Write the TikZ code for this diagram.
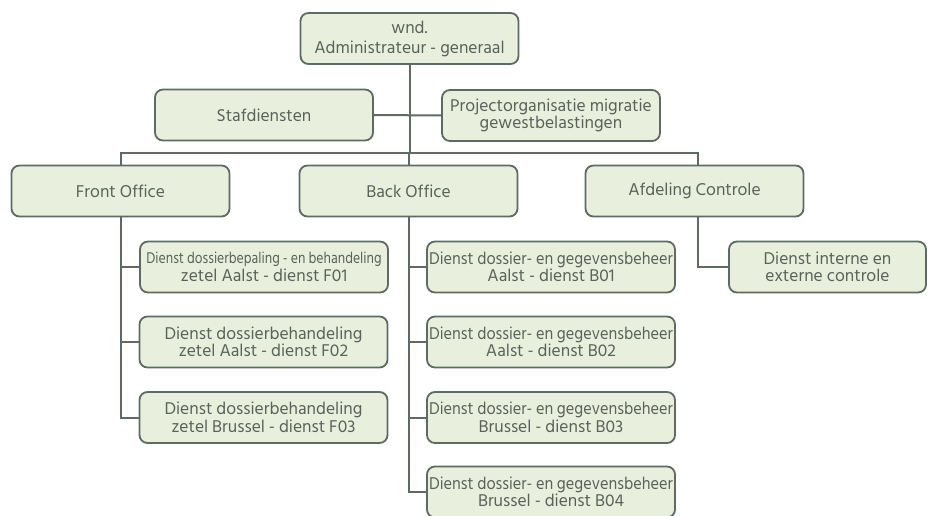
\documentclass[tikz,border=0pt]{standalone}
\usepackage{fontspec}
\setmainfont{Hind Siliguri}
\newfontfamily\narrowfont[FakeStretch=0.93]{Hind Siliguri}
\newfontfamily\smallnarrowfont[FakeStretch=0.86]{Hind Siliguri}
\definecolor{boxfill}{HTML}{E8EFDC}
\definecolor{boxline}{HTML}{5E6A62}
\definecolor{boxtext}{HTML}{5A625C}
\begin{document}
\begin{tikzpicture}[x=1pt, y=-1pt,
   every node/.style={draw=boxline, line width=1.8pt, fill=boxfill, rounded corners=8pt,
                      text=boxtext, align=center, inner sep=0pt,
                      font=\fontsize{17.5}{17.5}\selectfont},
   unitbox/.style={minimum width=218pt, minimum height=51pt},
   dienstbox/.style={minimum width=248pt, minimum height=51pt},
   link/.style={draw=boxline, line width=2pt}]

\useasboundingbox (0,0) rectangle (935,516);

% top levels
\node[unitbox, font=\fontsize{17.5}{20}\selectfont] (agen) at (409.5,38.5) {wnd.\\Administrateur - generaal};
\node[unitbox] (staf) at (264,115) {Stafdiensten};
\node[unitbox] (proj) at (551,115.5) {Projectorganisatie migratie\\gewestbelastingen};
\node[unitbox] (front) at (120.5,191) {Front Office};
\node[unitbox] (back) at (408.5,191) {Back Office};
\node[unitbox] (afd) at (694.5,191) {Afdeling Controle};

% diensten
\node[dienstbox] (f01) at (264,267) {{\smallnarrowfont\fontsize{16}{16}\selectfont Dienst dossierbepaling - en behandeling}\\zetel Aalst - dienst F01};
\node[dienstbox] (f02) at (263.5,342) {Dienst dossierbehandeling\\zetel Aalst - dienst F02};
\node[dienstbox] (f03) at (263.5,417.5) {Dienst dossierbehandeling\\zetel Brussel - dienst F03};
\node[dienstbox] (b01) at (551,267) {{\narrowfont Dienst dossier- en gegevensbeheer}\\Aalst - dienst B01};
\node[dienstbox] (b02) at (551,342) {{\narrowfont Dienst dossier- en gegevensbeheer}\\Aalst - dienst B02};
\node[dienstbox] (b03) at (551,417.5) {{\narrowfont Dienst dossier- en gegevensbeheer}\\Brussel - dienst B03};
\node[dienstbox] (b04) at (551,492) {{\narrowfont Dienst dossier- en gegevensbeheer}\\Brussel - dienst B04};
\node[minimum width=197pt, minimum height=51pt] (intern) at (827.5,267) {Dienst interne en\\externe controle};

% connectors
\coordinate (busL) at (120.5,153);
\coordinate (busR) at (698,153);
\coordinate (afdlink) at (698,217);
\begin{scope}[on background layer/.try]
\draw[link] (agen.south) -- (agen.south |- busL);
\draw[link] (staf.east) -- (proj.west);
\draw[link] (front.north) -- (busL) -- (busR) -- (busR |- afd.north);
\draw[link] (back.north) -- (back.north |- busL);
\draw[link] (front.south) |- (f03.west);
\draw[link] (front.south |- f01.west) -- (f01.west);
\draw[link] (front.south |- f02.west) -- (f02.west);
\draw[link] (back.south) |- (b04.west);
\draw[link] (back.south |- b01.west) -- (b01.west);
\draw[link] (back.south |- b02.west) -- (b02.west);
\draw[link] (back.south |- b03.west) -- (b03.west);
\draw[link] (afdlink) |- (intern.west);
\end{scope}

\end{tikzpicture}
\end{document}
